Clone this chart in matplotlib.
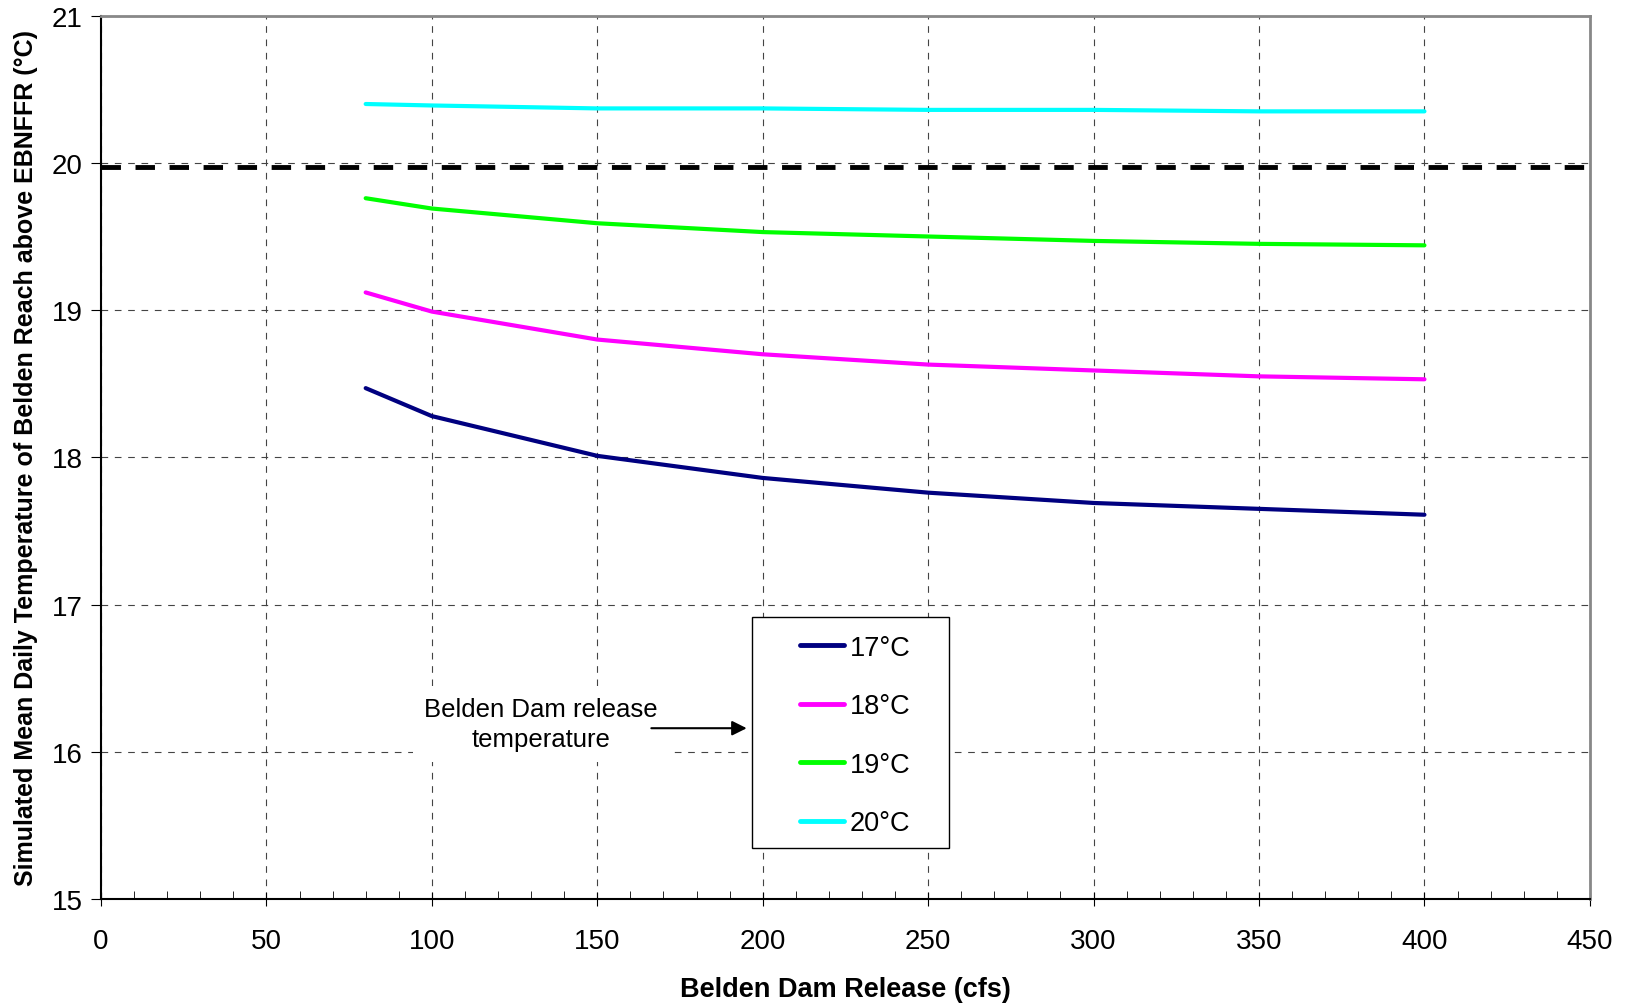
import matplotlib
matplotlib.use("Agg")
import matplotlib.pyplot as plt
from matplotlib.patches import Rectangle
from matplotlib.ticker import MultipleLocator

plt.rcParams['font.family'] = ['Liberation Sans', 'DejaVu Sans']

# Belden Dam release (cfs)
release = [80, 100, 150, 200, 250, 300, 350, 400]

# simulated mean daily temperature for each release temperature
temp_17 = [18.47, 18.28, 18.01, 17.86, 17.76, 17.69, 17.65, 17.61]
temp_18 = [19.12, 18.99, 18.80, 18.70, 18.63, 18.59, 18.55, 18.53]
temp_19 = [19.76, 19.69, 19.59, 19.53, 19.50, 19.47, 19.45, 19.44]
temp_20 = [20.40, 20.39, 20.37, 20.37, 20.36, 20.36, 20.35, 20.35]

labels = ['17°C', '18°C', '19°C', '20°C']
colors = ['#000080', '#FF00FF', '#00FF00', '#00FFFF']
threshold = 19.975

fig = plt.figure(figsize=(16.34, 10.04), dpi=100)
ax = fig.add_axes([0.0618, 0.1036, 0.9112, 0.8798])

for series, lab, col in zip([temp_17, temp_18, temp_19, temp_20], labels, colors):
    ax.plot(release, series, color=col, lw=3, label=lab, solid_capstyle='round')

ax.axhline(threshold, color='black', lw=3.5, dashes=(4, 3))

ax.set_xlim(0, 450)
ax.set_ylim(15, 21)
ax.xaxis.set_major_locator(MultipleLocator(50))
ax.xaxis.set_minor_locator(MultipleLocator(10))
ax.yaxis.set_major_locator(MultipleLocator(1))
ax.grid(True, which='major', color='#444444', linestyle=(0, (6, 6)), linewidth=0.8)
ax.tick_params(axis='x', which='major', direction='inout', length=10, labelsize=20, pad=16)
ax.tick_params(axis='x', which='minor', direction='in', length=6)
ax.tick_params(axis='y', which='major', direction='out', length=7, labelsize=20, pad=6)
for side in ['top', 'right']:
    ax.spines[side].set_color('#888888')
    ax.spines[side].set_linewidth(2)
for side in ['left', 'bottom']:
    ax.spines[side].set_linewidth(1.5)

ax.set_xlabel('Belden Dam Release (cfs)', fontsize=19.5, fontweight='bold', labelpad=16)
ax.set_ylabel('Simulated Mean Daily Temperature of Belden Reach above EBNFFR (°C)',
              fontsize=18, fontweight='bold', labelpad=10)

# legend box (frame drawn separately: wide side padding like the original)
ax.add_patch(Rectangle((0.4374, 0.0578), 0.1322, 0.2618, transform=ax.transAxes,
                       facecolor='white', edgecolor='black', lw=1, zorder=4))
leg = ax.legend(loc='center', bbox_to_anchor=(0.5065, 0.185), fontsize=19.5, frameon=False,
                handlelength=1.65, labelspacing=1.2, borderpad=0, handletextpad=0.2,
                borderaxespad=0)
leg.set_zorder(5)
for h in leg.get_lines():
    h.set_linewidth(3.5)

ax.text(133, 16.19, 'Belden Dam release\ntemperature', ha='center', va='center',
        fontsize=18.5, linespacing=1.3,
        bbox=dict(facecolor='white', edgecolor='none', pad=8))
ax.annotate('', xy=(196, 16.16), xytext=(165.5, 16.16),
            arrowprops=dict(arrowstyle='-|>', color='black', lw=1.5, mutation_scale=22))

fig.savefig('out.png', dpi=100)
